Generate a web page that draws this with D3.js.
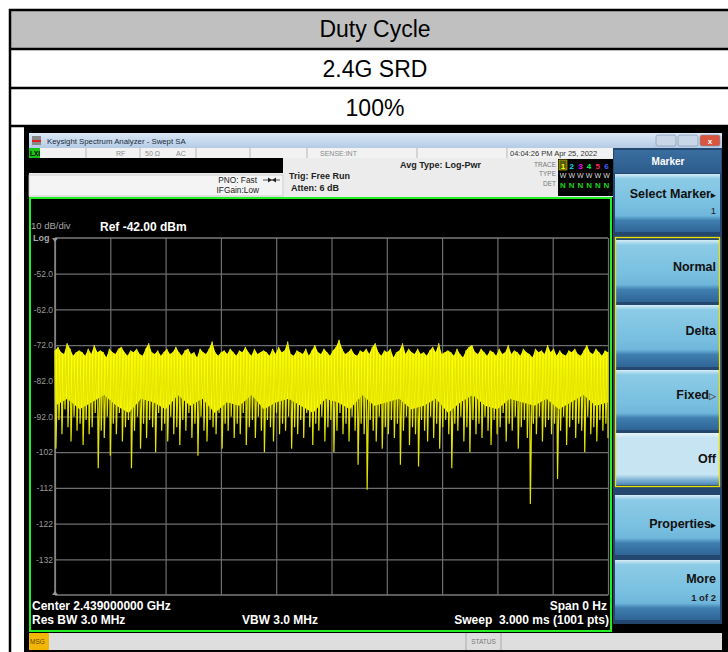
<!DOCTYPE html>
<html><head><meta charset="utf-8">
<script src="https://cdn.jsdelivr.net/npm/d3@7"></script>
<style>
html,body{margin:0;padding:0;background:#fff;}
svg{display:block;}
text{font-family:"Liberation Sans",Arial,sans-serif;}
</style></head>
<body><svg id="c" width="728" height="652"></svg>
<script>
// ---------- data ----------
const headerRows = ["Duty Cycle", "2.4G SRD", "100%"];
const refLevel = -42;           // dBm, top of screen
const dbPerDiv = 10;
const yTickValues = [-52, -62, -72, -82, -92, -102, -112, -122, -132];
const yTickLabels = ["-52.0", "-62.0", "-72.0", "-82.0", "-92.0", "-102", "-112", "-122", "-132"];
const xGridMs = [0, 0.3, 0.6, 0.9, 1.2, 1.5, 1.8, 2.1, 2.4, 2.7, 3.0];
const sweepMs = 3.0;
// upper edge of the trace (dBm), read across the sweep
const peakDbm = [
-73.5,-72.5,-74,-74.5,-71.5,-73,-75,-74,-73.5,-74,
-75,-73,-74.5,-72,-74,-73.5,-74,-75.5,-73,-74,
-74.5,-73,-72.5,-74,-75,-73.5,-74,-73,-74.5,-75,
-73,-71.5,-74,-74.5,-73.5,-75,-74,-73,-74.5,-74,
-72.5,-74,-75,-73.5,-73,-74.5,-74,-75.5,-73,-74,
-74.5,-73,-71,-74,-75,-74,-73.5,-74.5,-73,-74,
-75,-73.5,-74,-72.5,-74,-75,-73,-74.5,-74,-73.5,
-74,-75,-73,-74.5,-72.5,-74,-73.5,-71,-74.5,-75,
-73.5,-74,-74.5,-73,-75,-73.5,-72,-74,-74.5,-73,
-74,-75,-73.5,-72.5,-70.5,-73,-74.5,-74,-73,-74.5,
-75,-73.5,-74,-73,-74.5,-72.5,-71.5,-74,-75,-73.5,
-74,-73,-75.5,-74,-73.5,-71.5,-74.5,-73,-74,-74.5,
-73,-74.5,-74,-75,-73.5,-72.5,-74,-71.5,-74.5,-74,
-73.5,-74,-75,-73,-74.5,-75.5,-73.5,-72.5,-72,-74,
-74.5,-73,-74,-75,-73.5,-74,-75,-73,-74.5,-74,
-72,-74.5,-73.5,-74,-75,-73,-74,-74.5,-75.5,-73,
-74,-73.5,-74.5,-72,-74,-73,-75,-73.5,-74.5,-75,
-73.5,-74,-73,-74.5,-75,-73.5,-72,-74,-74.5,-73,
-74,-75,-73.5,-74];
// lower edge of the dense yellow body (dBm)
const bodyDbm = [
-89,-87,-90,-88,-86,-89,-91,-87,-88,-90,
-86,-89,-87,-91,-88,-89,-86,-90,-88,-87,
-89,-91,-87,-88,-90,-86,-89,-88,-87,-90,
-89,-87,-91,-88,-86,-89,-90,-87,-88,-89,
-87,-90,-88,-86,-89,-88];
// downward spikes of the trace (dBm)
const dipDbm = [
-101,-93,-97,-90,-95,-99,-92,-96,-94,-100,
-93,-97,-95,-91,-106.5,-96,-98,-92,-103,-94,
-97,-91,-99,-95,-93,-106.5,-96,-92,-101,-94,
-98,-93,-95,-102,-91,-96,-94,-99,-92,-97,
-95,-100,-93,-96,-91,-98,-94,-103,-92,-96,
-99,-93,-95,-97,-91,-101,-94,-96,-92,-98,
-94,-97,-91,-100,-95,-93,-98,-92,-96,-102,
-93,-95,-99,-91,-97,-94,-96,-92,-101,-95,
-97,-93,-98,-91,-95,-100,-94,-96,-92,-99,
-95,-93,-102,-96,-91,-97,-94,-99,-92,-96,
-105.5,-94,-97,-112.5,-93,-96,-99,-92,-101,-95,
-97,-93,-98,-94,-105.5,-96,-92,-100,-95,-97,
-106,-93,-96,-99,-92,-98,-94,-101,-95,-93,
-97,-106.5,-94,-96,-92,-99,-95,-102,-93,-97,
-94,-98,-92,-96,-100,-93,-97,-95,-91,-99,
-94,-96,-92,-101,-95,-93,-98,-116.5,-94,-97,
-92,-99,-95,-93,-97,-94,-109.5,-96,-92,-100,
-95,-93,-98,-94,-96,-102,-92,-97,-95,-99,
-93,-96,-94,-98];
const softKeys = [
  {label:"Select Marker", sub:"1", arrow:"▸", y0:174, y1:232, ty:198},
  {label:"Normal", sub:"", arrow:"", y0:240, y1:302, ty:271},
  {label:"Delta", sub:"", arrow:"", y0:305, y1:367, ty:335},
  {label:"Fixed", sub:"", arrow:"▷", y0:370, y1:430, ty:399},
  {label:"Off", sub:"", arrow:"", y0:433, y1:485, ty:463, light:true},
  {label:"Properties", sub:"", arrow:"▸", y0:495, y1:555, ty:528},
  {label:"More", sub:"1 of 2", arrow:"", y0:560, y1:620, ty:583}
];
const traceNums = ["1","2","3","4","5","6"];
const traceColors = ["#ffff00","#00e0ff","#ff00ff","#00ff60","#ff2060","#4060ff"];

// ---------- drawing ----------
const svg = d3.select("#c");
const defs = svg.append("defs");
function grad(id, stops){
  const g = defs.append("linearGradient").attr("id", id).attr("x1",0).attr("y1",0).attr("x2",0).attr("y2",1);
  stops.forEach(s => g.append("stop").attr("offset", s[0]).attr("stop-color", s[1]));
}
grad("titleG", [[0,"#dbe8f6"],[1,"#b4cbe6"]]);
grad("keyG", [[0,"#d6ecf6"],[0.08,"#8ccbe6"],[0.55,"#78bfe0"],[0.72,"#6eb6db"],[0.8,"#3f7fb0"],[1,"#2f6496"]]);
grad("keyL", [[0,"#e6f4fb"],[0.1,"#c6e4f2"],[0.8,"#c6e4f2"],[0.9,"#7fb3d6"],[1,"#4d86b8"]]);
grad("hdrG", [[0,"#3a6ea0"],[1,"#2c5c8c"]]);

// header table
const rowY = [10, 49, 88, 126];
svg.append("rect").attr("x",10).attr("y",10).attr("width",740).attr("height",38).attr("fill","#c0c0c0");
svg.selectAll("line.tb").data(rowY).join("line").attr("class","tb")
  .attr("x1",9).attr("x2",728).attr("y1",d=>d).attr("y2",d=>d).attr("stroke","#000").attr("stroke-width",2.5);
svg.append("line").attr("x1",10).attr("x2",10).attr("y1",9).attr("y2",652).attr("stroke","#000").attr("stroke-width",2.5);
svg.selectAll("text.hd").data(headerRows).join("text").attr("class","hd")
  .attr("x",375).attr("y",(d,i)=>[37,77,116][i]).attr("text-anchor","middle")
  .attr("font-size",23).attr("fill","#000").text(d=>d);

// screenshot frame
svg.append("rect").attr("x",24).attr("y",127).attr("width",704).attr("height",525).attr("fill","#000");
// title bar
svg.append("rect").attr("x",29).attr("y",133).attr("width",693).attr("height",15).attr("fill","url(#titleG)");
svg.append("rect").attr("x",32).attr("y",136).attr("width",9).attr("height",9).attr("fill","#888");
svg.append("rect").attr("x",32).attr("y",140).attr("width",9).attr("height",2).attr("fill","#d22");
svg.append("text").attr("x",47).attr("y",143.5).attr("font-size",7.8).attr("fill","#1a2a3a").text("Keysight Spectrum Analyzer - Swept SA");
[[656,"#c8d6e8"],[678,"#c8d6e8"],[700,"#d9553f"]].forEach(b=>{
  svg.append("rect").attr("x",b[0]).attr("y",135).attr("width",20).attr("height",11).attr("rx",2).attr("fill",b[1]).attr("stroke","#7a8ea8").attr("stroke-width",0.6);
});
svg.append("text").attr("x",710).attr("y",144).attr("text-anchor","middle").attr("font-size",8).attr("font-weight","bold").attr("fill","#fff").text("x");
// status row
svg.append("rect").attr("x",29).attr("y",148).attr("width",584).attr("height",10).attr("fill","#f2f2f2");
svg.append("rect").attr("x",29).attr("y",148).attr("width",11).attr("height",10).attr("fill","#19c219");
svg.append("text").attr("x",30).attr("y",156).attr("font-size",6.5).attr("font-weight","bold").attr("fill","#000").text("LXI");
[86,140,196,250,307,417,507].forEach(x=>svg.append("line").attr("x1",x).attr("x2",x).attr("y1",148).attr("y2",158).attr("stroke","#b8b8b8"));
[["RF",116],["50 Ω",145],["AC",176],["SENSE:INT",320]].forEach(t=>svg.append("text").attr("x",t[1]).attr("y",156).attr("font-size",7).attr("fill","#8a8a8a").text(t[0]));
svg.append("text").attr("x",510).attr("y",156).attr("font-size",7.5).attr("fill","#333").text("04:04:26 PM Apr 25, 2022");
// settings area
svg.append("rect").attr("x",29).attr("y",158).attr("width",584).attr("height",39).attr("fill","#ececec");
svg.append("rect").attr("x",29).attr("y",158).attr("width",254).attr("height",15).attr("fill","#000");
svg.append("rect").attr("x",29).attr("y",175).attr("width",254).attr("height",21).attr("fill","#f4f4f4").attr("stroke","#c8c8c8").attr("stroke-width",0.8);
svg.append("text").attr("x",257).attr("y",183).attr("text-anchor","end").attr("font-size",8.3).attr("fill","#222").text("PNO: Fast");
svg.append("text").attr("x",259).attr("y",193).attr("text-anchor","end").attr("font-size",8.3).attr("fill","#222").text("IFGain:Low");
svg.append("line").attr("x1",263).attr("x2",280).attr("y1",180).attr("y2",180).attr("stroke","#222").attr("stroke-width",0.8);
svg.append("path").attr("d","M268,177.5 L272,180 L268,182.5 Z M276,177.5 L272,180 L276,182.5 Z").attr("fill","#222");
svg.append("text").attr("x",289).attr("y",179).attr("font-size",9).attr("font-weight","bold").attr("fill","#222").text("Trig: Free Run");
svg.append("text").attr("x",291).attr("y",191).attr("font-size",9).attr("font-weight","bold").attr("fill","#222").text("Atten: 6 dB");
svg.append("text").attr("x",400).attr("y",168).attr("font-size",9).attr("font-weight","bold").attr("fill","#222").text("Avg Type: Log-Pwr");
[["TRACE",167],["TYPE",176],["DET",186]].forEach(t=>svg.append("text").attr("x",556).attr("y",t[1]).attr("text-anchor","end").attr("font-size",6.5).attr("fill","#777").text(t[0]));
svg.append("rect").attr("x",558).attr("y",159).attr("width",55).attr("height",37).attr("fill","#000");
svg.append("rect").attr("x",559).attr("y",160).attr("width",8).attr("height",10).attr("fill","#5a5a10").attr("stroke","#cccc00").attr("stroke-width",0.6);
traceNums.forEach((n,i)=>{
  svg.append("text").attr("x",563+i*8.7).attr("y",168.5).attr("text-anchor","middle").attr("font-size",8).attr("font-weight","bold").attr("fill",traceColors[i]).text(n);
  svg.append("text").attr("x",563+i*8.7).attr("y",177.5).attr("text-anchor","middle").attr("font-size",7).attr("fill","#ddd").text("W");
  svg.append("text").attr("x",563+i*8.7).attr("y",188).attr("text-anchor","middle").attr("font-size",8).attr("font-weight","bold").attr("fill","#19d219").text("N");
});

// right soft-key panel
svg.append("rect").attr("x",613).attr("y",148).attr("width",109).attr("height",476).attr("fill","#23476f");
svg.append("rect").attr("x",614).attr("y",150).attr("width",107).attr("height",23).attr("fill","url(#hdrG)");
svg.append("text").attr("x",668).attr("y",165).attr("text-anchor","middle").attr("font-size",10).attr("font-weight","bold").attr("fill","#fff").text("Marker");
softKeys.forEach(k=>{
  svg.append("rect").attr("x",615).attr("y",k.y0).attr("width",105).attr("height",k.y1-k.y0).attr("fill",k.light?"url(#keyL)":"url(#keyG)");
  const t = svg.append("text").attr("x",716).attr("y",k.ty).attr("text-anchor","end").attr("font-size",12.5).attr("font-weight","bold").attr("fill","#111");
  t.append("tspan").text(k.label);
  if(k.arrow) t.append("tspan").attr("font-size",9).attr("fill",k.arrow==="▷"?"#555":"#111").text(k.arrow);
  if(k.sub) svg.append("text").attr("x",716).attr("y",k.ty+(k.label==="More"?18:16)).attr("text-anchor","end").attr("font-size",9.5).attr("font-weight",k.label==="More"?"bold":"normal").attr("fill","#222").text(k.sub);
});
svg.append("rect").attr("x",615.5).attr("y",237.5).attr("width",104).attr("height",249).attr("fill","none").attr("stroke","#f0e000").attr("stroke-width",1.3);

// graph area
svg.append("rect").attr("x",30).attr("y",198).attr("width",581).attr("height",433).attr("fill","#000").attr("stroke","#22ee22").attr("stroke-width",2);

const x = d3.scaleLinear().domain([0, sweepMs]).range([55, 608]);
const y = d3.scaleLinear().domain([refLevel, refLevel - 10*dbPerDiv]).range([238, 595]);

// grid via axes
const gy = svg.append("g").attr("transform","translate(55,0)")
  .call(d3.axisLeft(y).tickValues(yTickValues).tickSize(-(x(sweepMs)-x(0))).tickFormat((d,i)=>yTickLabels[i]));
gy.select(".domain").remove();
gy.selectAll(".tick line").attr("stroke","#6e6e6e").attr("stroke-width",1.2);
gy.selectAll(".tick text").attr("x",-2).attr("fill","#9a9a9a").attr("font-size",8.5).attr("font-family","Liberation Sans, Arial, sans-serif");
const gx = svg.append("g").attr("transform","translate(0,238)")
  .call(d3.axisBottom(x).tickValues(xGridMs).tickSize(y(refLevel-10*dbPerDiv)-y(refLevel)).tickFormat(""));
gx.select(".domain").remove();
gx.selectAll(".tick line").attr("stroke","#6e6e6e").attr("stroke-width",1.2);
svg.append("line").attr("x1",x(0)).attr("x2",x(sweepMs)).attr("y1",y(refLevel)).attr("y2",y(refLevel)).attr("stroke","#7a7a7a").attr("stroke-width",1.5);
svg.append("line").attr("x1",x(0)).attr("x2",x(sweepMs)).attr("y1",y(refLevel-100)).attr("y2",y(refLevel-100)).attr("stroke","#7a7a7a").attr("stroke-width",1.5);
svg.append("line").attr("x1",x(0)).attr("x2",x(0)).attr("y1",y(refLevel)).attr("y2",y(refLevel-100)).attr("stroke","#8a8a8a").attr("stroke-width",1.5);
svg.append("path").attr("d",`M${x(0)-3},${y(refLevel)} L${x(0)+3},${y(refLevel)} L${x(0)},${y(refLevel)+4} Z`).attr("fill","#9a9a9a");
svg.append("path").attr("d",`M${x(0)-3},${y(refLevel-100)} L${x(0)+3},${y(refLevel-100)} L${x(0)},${y(refLevel-100)-4} Z`).attr("fill","#9a9a9a");

// labels
svg.append("text").attr("x",31).attr("y",229).attr("font-size",9.5).attr("fill","#a8a8a8").text("10 dB/div");
svg.append("text").attr("x",33).attr("y",240.5).attr("font-size",9).attr("font-weight","bold").attr("fill","#a8a8a8").text("Log");
svg.append("text").attr("x",100).attr("y",231).attr("font-size",12).attr("font-weight","bold").attr("fill","#fff").text("Ref -42.00 dBm");
svg.append("text").attr("x",32).attr("y",610).attr("font-size",12).attr("font-weight","bold").attr("fill","#fff").text("Center 2.439000000 GHz");
svg.append("text").attr("x",32).attr("y",624).attr("font-size",12).attr("font-weight","bold").attr("fill","#fff").text("Res BW 3.0 MHz");
svg.append("text").attr("x",242).attr("y",624).attr("font-size",12).attr("font-weight","bold").attr("fill","#fff").text("VBW 3.0 MHz");
svg.append("text").attr("x",607).attr("y",610).attr("text-anchor","end").attr("font-size",12).attr("font-weight","bold").attr("fill","#fff").text("Span 0 Hz");
svg.append("text").attr("x",609).attr("y",624).attr("text-anchor","end").attr("font-size",12).attr("font-weight","bold").attr("fill","#fff").attr("xml:space","preserve").text("Sweep  3.000 ms (1001 pts)");

// trace: solid body + polyline running through alternate peaks and dips
const tOf = (arr,i)=> i*sweepMs/(arr.length-1);
const step = sweepMs/(peakDbm.length-1);
const tracePts = [];
peakDbm.forEach((p,i)=>{
  tracePts.push([i*step, p]);
  if(i < dipDbm.length) tracePts.push([Math.min(sweepMs, i*step + step*0.3), dipDbm[i]]);
});
const plot = svg.append("g");
plot.append("path").datum(bodyDbm)
  .attr("d", d3.area().x((d,i)=>x(tOf(bodyDbm,i))).y0(y(-78)).y1(d=>y(d)).curve(d3.curveLinear))
  .attr("fill","#ffff00");
plot.append("path").datum(peakDbm)
  .attr("d", d3.area().x((d,i)=>x(tOf(peakDbm,i))).y0(y(-82)).y1(d=>y(d)).curve(d3.curveLinear))
  .attr("fill","#ffff00");
plot.append("path").datum(tracePts)
  .attr("d", d3.line().x(d=>x(d[0])).y(d=>y(d[1])))
  .attr("fill","none").attr("stroke","#e4e400").attr("stroke-width",1.2).attr("stroke-linejoin","bevel");

// bottom status bar
svg.append("rect").attr("x",29).attr("y",633).attr("width",693).attr("height",17).attr("fill","#dedede");
svg.append("rect").attr("x",29).attr("y",633).attr("width",20).attr("height",17).attr("fill","#f2b705");
svg.append("text").attr("x",30).attr("y",644).attr("font-size",6.5).attr("fill","#6a4a00").text("MSG");
[466,501].forEach(xx=>svg.append("line").attr("x1",xx).attr("x2",xx).attr("y1",633).attr("y2",650).attr("stroke","#aaa"));
svg.append("text").attr("x",483.5).attr("y",644).attr("text-anchor","middle").attr("font-size",6.5).attr("fill","#777").text("STATUS");
</script></body></html>
